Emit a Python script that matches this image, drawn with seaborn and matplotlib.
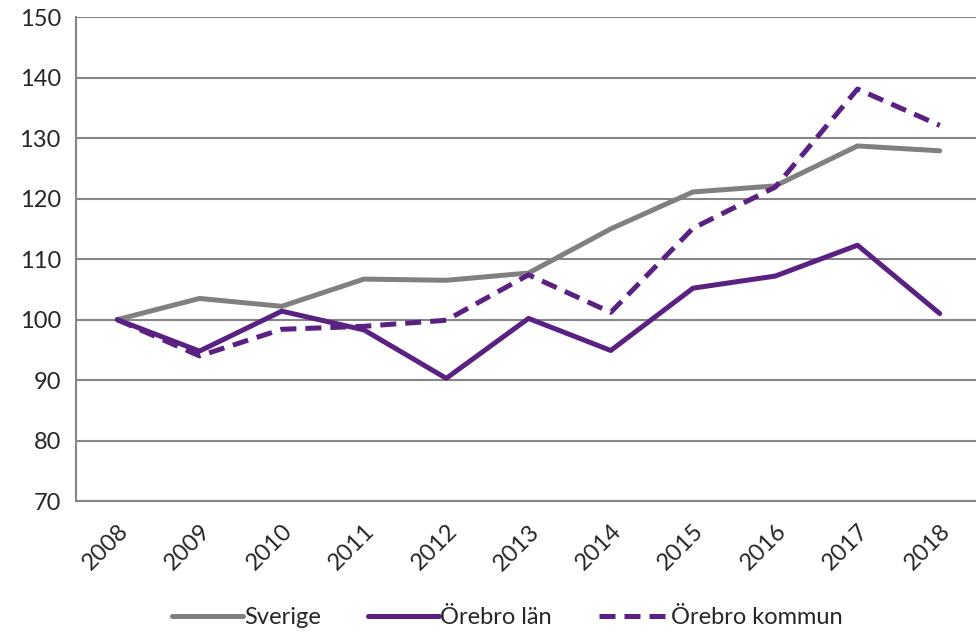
import pandas as pd
import matplotlib.pyplot as plt
import seaborn as sns

years = ["2008", "2009", "2010", "2011", "2012", "2013", "2014", "2015", "2016", "2017", "2018"]
sverige = [100, 103.5, 102.2, 106.7, 106.5, 107.7, 115.0, 121.1, 122.1, 128.7, 127.9]
orebro_lan = [100, 94.8, 101.4, 98.3, 90.3, 100.2, 94.9, 105.2, 107.2, 112.3, 101.0]
orebro_kommun = [100, 94.0, 98.4, 98.9, 99.9, 107.4, 101.2, 115.1, 121.9, 138.1, 132.1]
series_names = ["Sverige", "Örebro län", "Örebro kommun"]

rows = []
for name, vals in zip(series_names, [sverige, orebro_lan, orebro_kommun]):
    for i, v in enumerate(vals):
        rows.append({"pos": i, "value": v, "serie": name})
df = pd.DataFrame(rows)

sns.set_style("white")
plt.rcParams["font.family"] = ["Lato", "DejaVu Sans"]

grid_col = "#868686"
fig = plt.figure(figsize=(9.76, 6.32), dpi=100)
ax = fig.add_axes([0.078, 0.207, 0.927, 0.766])

sns.lineplot(data=df, x="pos", y="value", hue="serie", style="serie",
             hue_order=series_names, style_order=series_names,
             palette={"Sverige": "#808080", "Örebro län": "#5a2183", "Örebro kommun": "#5a2183"},
             dashes={"Sverige": "", "Örebro län": "", "Örebro kommun": (3.2, 1.8)},
             linewidth=3.6, ax=ax, legend=True)

ax.set_xlim(-0.5, 10.5)
ax.set_ylim(70, 150)
ax.set_yticks(range(70, 151, 10))
ax.yaxis.grid(True, color=grid_col, linewidth=1.5)
ax.set_axisbelow(True)
ax.set_xticks(range(len(years)))
ax.set_xticklabels(years, rotation=45, ha="right", rotation_mode="anchor", fontsize=17)
ax.set_xticks([i - 0.5 for i in range(len(years) + 1)], minor=True)
ax.tick_params(axis="x", which="major", length=0, pad=14)
ax.tick_params(axis="x", which="minor", length=7, width=1.5, color=grid_col, direction="out")
ax.tick_params(axis="y", length=7, width=1.5, color=grid_col, direction="out", labelsize=17, pad=4)
ax.set_xlabel("")
ax.set_ylabel("")
for s in ["top", "right"]:
    ax.spines[s].set_visible(False)
for s in ["left", "bottom"]:
    ax.spines[s].set_color(grid_col)
    ax.spines[s].set_linewidth(1.5)

handles, labels = ax.get_legend_handles_labels()
ax.get_legend().remove()
fig.legend(handles, labels, loc="lower center", bbox_to_anchor=(0.52, -0.027), ncol=3,
           frameon=False, fontsize=17, handlelength=3.0, handletextpad=0.05, columnspacing=2.0)

fig.savefig("out.png", dpi=100)
